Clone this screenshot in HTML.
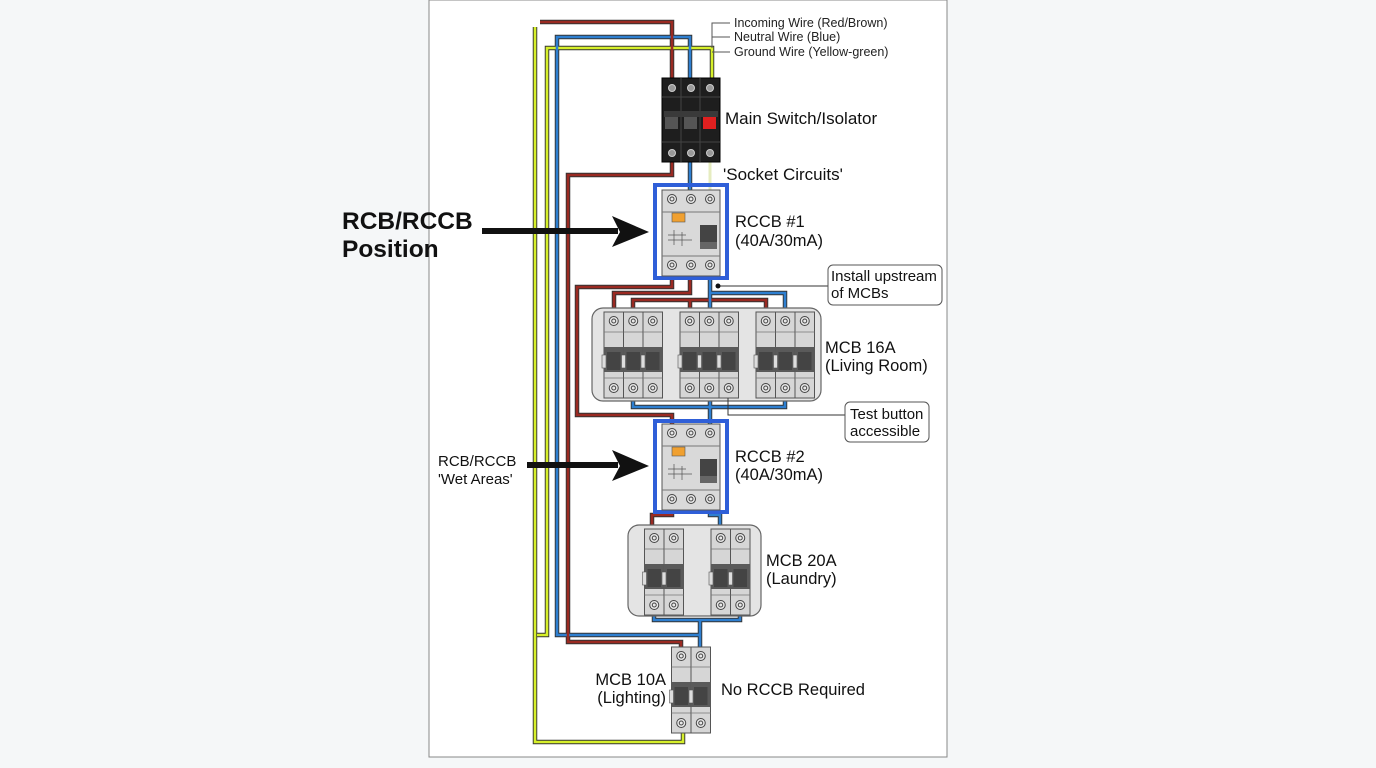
<!DOCTYPE html>
<html><head><meta charset="utf-8"><style>
html,body{margin:0;padding:0;background:#f5f7f8;}
svg{display:block;font-family:"Liberation Sans",Arial,sans-serif;}
</style></head><body>
<svg width="1376" height="768" viewBox="0 0 1376 768" xmlns="http://www.w3.org/2000/svg">
<defs>
<g id="scr"><circle r="4.5" fill="#e8e8e8" stroke="#444" stroke-width="1"/><circle r="2" fill="none" stroke="#444" stroke-width="1"/></g>
<g id="pole">
<rect x="0" y="0" width="19.5" height="86" fill="#d6d6d6" stroke="#555" stroke-width="1"/>
<line x1="0" y1="20" x2="19.5" y2="20" stroke="#777" stroke-width="0.8"/>
<line x1="0" y1="66" x2="19.5" y2="66" stroke="#777" stroke-width="0.8"/>
<rect x="0" y="35" width="19.5" height="25" fill="#5a5a5a"/>
<rect x="3" y="40" width="13.5" height="18" fill="#444"/>
<rect x="-2" y="43" width="4" height="13" fill="#ddd" stroke="#555" stroke-width="0.6"/>
<use href="#scr" x="9.75" y="9"/>
<use href="#scr" x="9.75" y="76"/>
</g>
<g id="rccb">
<rect x="0" y="0" width="58" height="86" fill="#d9d9d9" stroke="#555" stroke-width="1"/>
<line x1="0" y1="22" x2="58" y2="22" stroke="#777"/>
<line x1="0" y1="66" x2="58" y2="66" stroke="#777"/>
<use href="#scr" x="10" y="9"/><use href="#scr" x="29" y="9"/><use href="#scr" x="48" y="9"/>
<use href="#scr" x="10" y="75"/><use href="#scr" x="29" y="75"/><use href="#scr" x="48" y="75"/>
<rect x="10" y="23" width="13" height="9" fill="#f0a030" stroke="#555" stroke-width="0.6"/>
<rect x="38" y="35" width="17" height="24" fill="#444"/>
<rect x="38" y="52" width="17" height="7" fill="#666"/>
<path d="M6 45 H24 M12 40 V55 M6 50 H30 M20 42 V56" stroke="#555" stroke-width="0.7" fill="none"/>
</g>
</defs>
<rect x="429" y="0" width="518" height="757" fill="#fff" stroke="#888" stroke-width="1"/>

<g fill="none" stroke-linejoin="miter">
<g stroke="#333" stroke-width="4.5">
<path d="M535 27 V742 H683 V731"/>
<path d="M712 78 V48 H547 V635 H537"/>
<path d="M690 78 V37 H557 V635 H700"/>
<path d="M540 22 H672 V78"/>
<path d="M672 162 V175 H568 V642 H681 V647"/>
<path d="M672 276 V287 H577 V415 H672 V424"/>
<path d="M690 276 V293 H614 V313"/>
<path d="M633 313 V300 H766 V313 M690 300 V313"/>
<path d="M710 276 V293 H785 V313 M710 293 V313"/>
<path d="M633 398 V407 H785 V398 M710 398 V424"/>
<path d="M690 162 V190"/>
<path d="M672 508 V515 H652 V529"/>
<path d="M710 508 V515 H720 V529"/>
<path d="M654 612 V620 H740 V612 M700 620 V647"/>
</g>
<g stroke-width="2.6">
<path stroke="#d6ef2a" d="M535 27 V742 H683 V731"/>
<path stroke="#d6ef2a" d="M712 78 V48 H547 V635 H537"/>
<path stroke="#2e7fd0" d="M690 78 V37 H557 V635 H700"/>
<path stroke="#9a2a22" d="M540 22 H672 V78"/>
<path stroke="#9a2a22" d="M672 162 V175 H568 V642 H681 V647"/>
<path stroke="#9a2a22" d="M672 276 V287 H577 V415 H672 V424"/>
<path stroke="#9a2a22" d="M690 276 V293 H614 V313"/>
<path stroke="#9a2a22" d="M633 313 V300 H766 V313 M690 300 V313"/>
<path stroke="#2e7fd0" d="M710 276 V293 H785 V313 M710 293 V313"/>
<path stroke="#2e7fd0" d="M633 398 V407 H785 V398 M710 398 V424"/>
<path stroke="#2e7fd0" d="M690 162 V190"/>
<path stroke="#9a2a22" d="M672 508 V515 H652 V529"/>
<path stroke="#2e7fd0" d="M710 508 V515 H720 V529"/>
<path stroke="#2e7fd0" d="M654 612 V620 H740 V612 M700 620 V647"/>
</g>
<path d="M710 162 V190" stroke="#e6ecc0" stroke-width="3"/>
</g>

<g>
<rect x="662" y="78" width="58" height="84" fill="#1e1e1e" stroke="#000"/>
<line x1="681" y1="78" x2="681" y2="162" stroke="#444"/><line x1="700" y1="78" x2="700" y2="162" stroke="#444"/>
<line x1="662" y1="97" x2="720" y2="97" stroke="#444"/><line x1="662" y1="142" x2="720" y2="142" stroke="#444"/>
<rect x="664" y="111" width="54" height="6" fill="#3a3a3a"/>
<rect x="665" y="117" width="13" height="12" fill="#555"/><rect x="684" y="117" width="13" height="12" fill="#555"/><rect x="703" y="117" width="13" height="12" fill="#e02020"/>
<g fill="#999" stroke="#ccc" stroke-width="1"><circle cx="672" cy="88" r="3.5"/><circle cx="691" cy="88" r="3.5"/><circle cx="710" cy="88" r="3.5"/><circle cx="672" cy="153" r="3.5"/><circle cx="691" cy="153" r="3.5"/><circle cx="710" cy="153" r="3.5"/></g>
</g>

<rect x="655" y="185" width="72" height="93" fill="none" stroke="#2f5fd8" stroke-width="4"/>
<use href="#rccb" x="662" y="190"/>
<rect x="655" y="421" width="72" height="91" fill="none" stroke="#2f5fd8" stroke-width="4"/>
<use href="#rccb" x="662" y="424"/>

<rect x="592" y="308" width="229" height="93" rx="11" fill="#e4e4e4" stroke="#666" stroke-width="1.2"/>
<use href="#pole" x="604" y="312"/><use href="#pole" x="623.5" y="312"/><use href="#pole" x="643" y="312"/>
<use href="#pole" x="680" y="312"/><use href="#pole" x="699.5" y="312"/><use href="#pole" x="719" y="312"/>
<use href="#pole" x="756" y="312"/><use href="#pole" x="775.5" y="312"/><use href="#pole" x="795" y="312"/>

<rect x="628" y="525" width="133" height="91" rx="11" fill="#e4e4e4" stroke="#666" stroke-width="1.2"/>
<use href="#pole" x="644.5" y="529"/><use href="#pole" x="664" y="529"/>
<use href="#pole" x="711" y="529"/><use href="#pole" x="730.5" y="529"/>

<use href="#pole" x="671.5" y="647"/><use href="#pole" x="691" y="647"/>

<path d="M712 48 V23 H730 M712 37 H730 M712 52 H730" stroke="#555" stroke-width="1" fill="none"/>
<g font-size="12.5" fill="#222">
<text x="734" y="27">Incoming Wire (Red/Brown)</text>
<text x="734" y="41">Neutral Wire (Blue)</text>
<text x="734" y="56">Ground Wire (Yellow-green)</text>
</g>

<g font-size="16.5" fill="#111">
<text x="725" y="124" font-size="17">Main Switch/Isolator</text>
<text x="723" y="180" font-size="17">'Socket Circuits'</text>
<text x="735" y="227">RCCB #1</text>
<text x="735" y="246">(40A/30mA)</text>
<text x="825" y="353">MCB 16A</text>
<text x="825" y="371">(Living Room)</text>
<text x="735" y="462">RCCB #2</text>
<text x="735" y="480">(40A/30mA)</text>
<text x="766" y="566">MCB 20A</text>
<text x="766" y="584">(Laundry)</text>
<text x="666" y="685" text-anchor="end">MCB 10A</text>
<text x="666" y="703" text-anchor="end">(Lighting)</text>
<text x="721" y="695">No RCCB Required</text>
</g>
<g font-size="15" fill="#111">
<text x="438" y="466">RCB/RCCB</text>
<text x="438" y="484">'Wet Areas'</text>
</g>
<g font-size="24.5" font-weight="bold" fill="#111">
<text x="342" y="229">RCB/RCCB</text>
<text x="342" y="257">Position</text>
</g>
<path d="M482 231 H618" stroke="#111" stroke-width="6"/>
<path d="M612 216 L649 232 L612 247 L620 232 Z" fill="#111"/>
<path d="M527 465 H618" stroke="#111" stroke-width="6"/>
<path d="M612 450 L649 466 L612 481 L620 466 Z" fill="#111"/>

<path d="M718 286 H828" stroke="#333" stroke-width="1" fill="none"/>
<circle cx="718" cy="286" r="2.5" fill="#111"/>
<rect x="828" y="265" width="114" height="40" rx="5" fill="#fff" stroke="#555"/>
<g font-size="15" fill="#111"><text x="831" y="281">Install upstream</text><text x="831" y="298">of MCBs</text></g>
<path d="M728 398 V415 H845" stroke="#333" stroke-width="1" fill="none"/>
<rect x="845" y="402" width="84" height="40" rx="5" fill="#fff" stroke="#555"/>
<g font-size="15" fill="#111"><text x="850" y="419">Test button</text><text x="850" y="436">accessible</text></g>
</svg>
</body></html>
